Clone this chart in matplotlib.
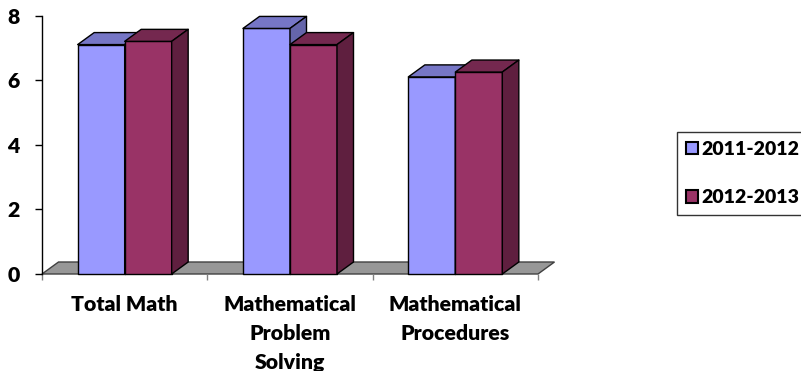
import matplotlib
matplotlib.use("Agg")
import matplotlib.pyplot as plt
from matplotlib.patches import Polygon, Patch

plt.rcParams["font.family"] = ["Lato", "DejaVu Sans"]

categories = ["Total Math", "Mathematical\nProblem\nSolving", "Mathematical\nProcedures"]
series_names = ["2011-2012", "2012-2013"]
scores_2011 = [7.1, 7.6, 6.1]
scores_2012 = [7.2, 7.1, 6.25]
y_ticks = [0, 2, 4, 6, 8]

# front / top / side shades per series
shades = [
    ("#9999ff", "#7676c6", "#6565aa"),
    ("#993366", "#74284f", "#5f1f3f"),
]
FS = 15.3
WT = 800

W, H = 801, 371
fig = plt.figure(figsize=(W / 100, H / 100), dpi=100)
ax = fig.add_axes([42 / W, 97 / H, 496 / W, 258.5 / H])
ax.set_xlim(-0.5, 2.5)
ax.set_ylim(0, 8)

# oblique depth offset, converted from pixels to data units
px_x = 496 / 3
px_y = 258.5 / 8
dx, dy = 16.5 / px_x, 12 / px_y
bar_w = 47 / px_x

# floor
floor = Polygon([(-0.5, 0), (2.5, 0), (2.5 + dx, dy), (-0.5 + dx, dy)],
                closed=True, facecolor="#979797", edgecolor="#404040",
                lw=1, clip_on=False, zorder=1)
ax.add_patch(floor)


def draw_box(x0, h, colors, z):
    front, top, side = colors
    x1 = x0 + bar_w
    faces = [
        ([(x0, 0), (x1, 0), (x1, h), (x0, h)], front),
        ([(x0, h), (x1, h), (x1 + dx, h + dy), (x0 + dx, h + dy)], top),
        ([(x1, 0), (x1 + dx, dy), (x1 + dx, h + dy), (x1, h)], side),
    ]
    for pts, c in faces:
        ax.add_patch(Polygon(pts, closed=True, facecolor=c, edgecolor="black",
                             lw=1, joinstyle="round", clip_on=False, zorder=z))


for i in range(len(categories)):
    for s, vals in enumerate([scores_2011, scores_2012]):
        x0 = i - bar_w + s * bar_w
        draw_box(x0, vals[i], shades[s], 2 + i * 2 + s)

for side in ["top", "right", "bottom"]:
    ax.spines[side].set_visible(False)
ax.spines["left"].set_color("black")
ax.spines["left"].set_linewidth(1)

ax.set_yticks(y_ticks)
ax.set_yticklabels([str(t) for t in y_ticks], fontsize=FS, fontweight=WT)
ax.tick_params(axis="y", length=5, width=1, pad=11, color="black")

ax.set_xticks([-0.5, 0.5, 1.5, 2.5])
ax.set_xticklabels([])
ax.tick_params(axis="x", which="major", length=4.5, width=1, color="#808080")
ax.set_xticks([0, 1, 2], minor=True)
ax.set_xticklabels(categories, minor=True, fontsize=FS, fontweight=WT,
                   linespacing=1.62, va="top")
ax.tick_params(axis="x", which="minor", length=0, pad=15)

handles = [Patch(facecolor=shades[k][0], edgecolor="black", lw=1.5)
           for k in range(2)]
leg = fig.legend(handles, series_names, loc="upper left",
                 bbox_to_anchor=(677 / W, 1 - 132 / H), frameon=True,
                 fancybox=False, prop={"weight": WT, "size": 14},
                 handlelength=0.6, handleheight=0.6, handletextpad=0.2,
                 labelspacing=1.6, borderpad=0.47, borderaxespad=0)
leg.get_frame().set_edgecolor("black")
leg.get_frame().set_linewidth(1)

fig.savefig("out.png", dpi=100)
